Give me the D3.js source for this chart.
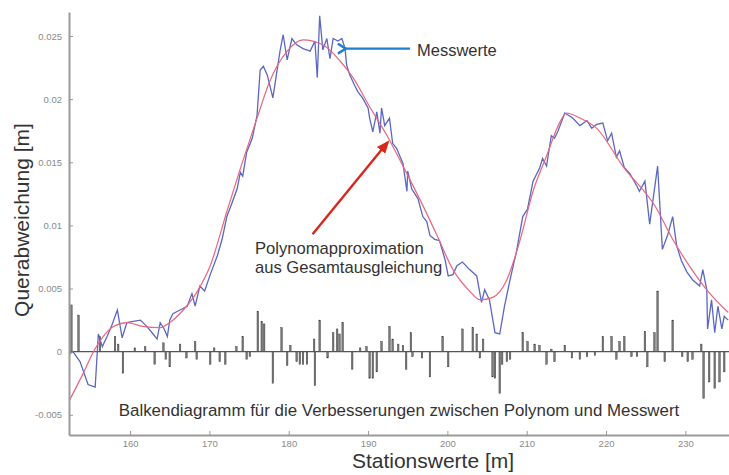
<!DOCTYPE html>
<html>
<head>
<meta charset="utf-8">
<script src="https://cdn.jsdelivr.net/npm/d3@7"></script>
<style>
    body { margin: 0; background: #fff; }
    svg { display: block; font-family: "Liberation Sans", Arial, sans-serif; }
    .axis path, .axis line { stroke: #9a9a9a; }
    .axis path { stroke-width: 2px; }
    .axis text { fill: #8a8a8a; font-size: 9.5px; }
</style>
</head>
<body>
<div id="chart"></div>
<script>

// Messwerte [Station m, Querabweichung m]
let messwerte = [
    [152.3,-0.0002],[152.8,0.0000],[153.7,-0.0008],[154.7,-0.0026],[155.6,-0.0028],[156.0,0.0014],
    [156.5,0.0004],[157.1,0.0012],[157.7,0.0021],[158.4,0.0033],[159.0,0.0011],[159.6,0.0023],
    [160.4,0.0024],[161.3,0.0025],[162.1,0.0020],[162.9,0.0014],[163.4,0.0010],[163.8,0.0023],
    [164.3,0.0018],[164.7,0.0012],[165.0,0.0025],[165.4,0.0030],[166.3,0.0033],[167.2,0.0036],
    [167.8,0.0046],[168.2,0.0036],[168.8,0.0052],[169.4,0.0048],[170.1,0.0061],[171.0,0.0076],
    [171.6,0.0089],[172.2,0.0107],[172.8,0.0117],[173.5,0.0129],[173.9,0.0142],[174.2,0.0139],
    [174.7,0.0158],[175.4,0.0169],[176.0,0.0187],[176.4,0.0223],[176.8,0.0226],[177.3,0.0219],
    [178.0,0.0201],[178.9,0.0238],[179.3,0.0251],[179.8,0.0231],[180.4,0.0248],[181.0,0.0243],
    [181.8,0.0240],[182.7,0.0238],[183.3,0.0246],[183.6,0.0217],[183.9,0.0266],[184.3,0.0239],
    [184.8,0.0248],[185.2,0.0232],[185.6,0.0248],[186.2,0.0246],[186.7,0.0248],[187.1,0.0240],
    [187.3,0.0227],[187.7,0.0219],[188.3,0.0211],[188.7,0.0206],[189.3,0.0201],[190.0,0.0193],
    [190.2,0.0185],[190.6,0.0174],[191.1,0.0190],[191.5,0.0173],[191.7,0.0193],[192.1,0.0179],
    [192.7,0.0185],[193.1,0.0165],[193.6,0.0161],[194.0,0.0155],[194.4,0.0149],[194.9,0.0127],
    [195.0,0.0143],[195.5,0.0129],[195.9,0.0125],[196.3,0.0121],[196.9,0.0107],[197.4,0.0103],
    [197.8,0.0092],[198.4,0.0089],[199.0,0.0088],[199.7,0.0073],[200.1,0.0060],[200.7,0.0061],
    [201.2,0.0068],[201.9,0.0071],[202.8,0.0065],[203.7,0.0060],[204.3,0.0039],[204.7,0.0049],
    [205.3,0.0041],[206.0,0.0015],[206.6,0.0014],[207.2,0.0036],[207.9,0.0057],[208.7,0.0079],
    [209.5,0.0107],[210.1,0.0113],[210.8,0.0135],[211.6,0.0145],[212.0,0.0153],[212.5,0.0147],
    [213.1,0.0171],[213.5,0.0169],[213.9,0.0174],[214.8,0.0189],[215.8,0.0185],[216.7,0.0179],
    [217.6,0.0183],[218.2,0.0177],[218.8,0.0180],[219.6,0.0181],[220.2,0.0167],[220.7,0.0173],
    [221.3,0.0154],[221.7,0.0159],[222.3,0.0146],[223.0,0.0141],[223.9,0.0131],[224.2,0.0127],
    [224.9,0.0135],[225.5,0.0101],[226.5,0.0147],[227.1,0.0081],[227.8,0.0093],[228.4,0.0107],
    [228.9,0.0084],[229.5,0.0072],[230.2,0.0063],[230.9,0.0057],[231.8,0.0052],[232.2,0.0065],
    [232.7,0.0049],[232.8,0.0018],[233.3,0.0041],[233.7,0.0015],[234.1,0.0036],[234.6,0.0018],
    [234.9,0.0028],[235.4,0.0025]
];

let polynom = [
    [152.4,-0.0038],[154.1,-0.0017],[155.3,-0.0001],[156.6,0.0012],[157.9,0.0020],[159.6,0.0023],
    [161.6,0.0020],[163.8,0.0019],[165.0,0.0023],[166.7,0.0033],[168.4,0.0047],[170.1,0.0068],
    [172.2,0.0111],[173.9,0.0145],[176.0,0.0185],[177.6,0.0214],[179.8,0.0238],[181.8,0.0247],
    [184.3,0.0243],[186.5,0.0230],[188.1,0.0217],[190.2,0.0194],[192.4,0.0171],[194.4,0.0147],
    [196.5,0.0121],[198.7,0.0092],[200.7,0.0065],[202.8,0.0048],[204.1,0.0041],[205.7,0.0043],
    [207.5,0.0057],[209.1,0.0087],[210.8,0.0127],[212.5,0.0155],[214.2,0.0182],[215.0,0.0189],
    [216.7,0.0185],[218.8,0.0177],[222.1,0.0147],[226.4,0.0113],[228.4,0.0089],[230.5,0.0068],
    [232.7,0.0049],[235.4,0.0031]
];

// Verbesserungen (Balken)
let verbesserungen = [
    [152.6,0.0037],[153.5,0.0029],[156.2,0.0012],[158.1,0.0012],[158.5,0.0006],[159.1,-0.0017],
    [160.6,0.0003],[161.9,0.0004],[163.1,-0.0010],[164.2,0.0007],[164.5,-0.0006],[165.0,-0.0012],
    [166.3,0.0006],[167.1,-0.0005],[168.2,0.0008],[168.4,-0.0006],[170.1,-0.0010],[170.6,0.0003],
    [171.3,-0.0008],[172.0,-0.0010],[173.4,0.0004],[174.2,0.0012],[174.7,-0.0006],[175.1,-0.0004],
    [176.1,0.0032],[176.6,0.0024],[176.9,0.0022],[178.0,-0.0025],[179.1,0.0019],[179.8,-0.0011],
    [180.2,0.0005],[181.0,-0.0008],[181.4,-0.0010],[181.8,-0.0010],[182.3,-0.0010],[183.2,0.0010],
    [183.3,-0.0027],[183.9,0.0025],[184.9,-0.0005],[185.6,0.0015],[186.1,0.0018],[186.4,0.0014],
    [186.8,0.0023],[188.0,-0.0014],[189.0,0.0003],[189.8,0.0004],[190.2,-0.0021],[190.6,-0.0021],
    [191.1,-0.0016],[191.7,0.0008],[192.7,0.0020],[193.1,0.0010],[193.8,0.0006],[194.4,0.0005],
    [194.8,-0.0014],[195.4,0.0015],[195.6,-0.0004],[196.8,-0.0005],[197.8,-0.0020],[199.4,0.0012],
    [200.1,-0.0012],[201.9,0.0018],[203.2,0.0019],[203.7,0.0014],[204.1,-0.0005],[204.5,0.0010],
    [205.7,-0.0020],[206.0,-0.0021],[206.6,-0.0033],[206.9,-0.0010],[207.5,-0.0008],[207.9,-0.0006],
    [209.5,0.0015],[210.1,0.0008],[211.0,0.0006],[211.6,0.0005],[212.5,-0.0010],[213.1,0.0002],
    [213.5,-0.0008],[214.8,0.0005],[215.7,-0.0005],[216.7,-0.0006],[217.6,-0.0004],[218.6,-0.0003],
    [219.6,0.0012],[220.7,0.0012],[221.3,-0.0006],[221.7,0.0008],[222.3,0.0012],[223.2,-0.0004],
    [223.9,-0.0004],[224.9,0.0016],[225.2,-0.0012],[226.1,0.0015],[226.5,0.0048],[227.4,-0.0008],
    [228.4,0.0025],[229.6,-0.0004],[230.3,-0.0008],[230.9,-0.0006],[232.0,0.0006],[232.3,-0.0037],
    [233.0,-0.0024],[233.7,-0.0029],[234.3,-0.0024],[234.9,-0.0016]
];

let xTicks = [160, 170, 180, 190, 200, 210, 220, 230];
let yTicks = [-0.005, 0, 0.005, 0.01, 0.015, 0.02, 0.025];

let xDomain = [152.3, 235.5];
let yDomain = [-0.0066, 0.0269];


let margin = {top: 12, right: 0, bottom: 40, left: 69};
let width = 729 - margin.left - margin.right;
let height = 475 - margin.top - margin.bottom;

let svg = d3.select("#chart").append("svg")
    .attr("width", 729)
    .attr("height", 475);

let defs = svg.append("defs");

defs.append("marker")
    .attr("id", "headBlue")
    .attr("viewBox", "0 0 12 12")
    .attr("refX", 1).attr("refY", 6)
    .attr("markerWidth", 12).attr("markerHeight", 12)
    .attr("markerUnits", "userSpaceOnUse")
    .attr("orient", "auto-start-reverse")
    .append("path")
    .attr("d", "M9,1 L1,6 L9,11")
    .attr("fill", "none")
    .attr("stroke", "#1f7fd0")
    .attr("stroke-width", 2.4);

defs.append("marker")
    .attr("id", "headRed")
    .attr("viewBox", "0 0 12 12")
    .attr("refX", 10).attr("refY", 6)
    .attr("markerWidth", 13).attr("markerHeight", 13)
    .attr("markerUnits", "userSpaceOnUse")
    .attr("orient", "auto")
    .append("path")
    .attr("d", "M0,1 L12,6 L0,11 Z")
    .attr("fill", "#d8281e");

let g = svg.append("g")
    .attr("transform", `translate(${margin.left}, ${margin.top})`);

// scales
let x = d3.scaleLinear().domain(xDomain).range([0, width]);
let y = d3.scaleLinear().domain(yDomain).range([height, 0]);

// bars
g.selectAll(".bar")
    .data(verbesserungen)
    .enter().append("rect")
    .attr("class", "bar")
    .attr("x", d => x(d[0]) - 0.8)
    .attr("width", 1.6)
    .attr("y", d => y(Math.max(0, d[1])))
    .attr("height", d => Math.abs(y(d[1]) - y(0)))
    .attr("fill", "#7a7a7a")
    .attr("stroke", "#333")
    .attr("stroke-width", 0.4);

// zero line
g.append("line")
    .attr("x1", 0).attr("x2", width)
    .attr("y1", y(0)).attr("y2", y(0))
    .attr("stroke", "#555")
    .attr("stroke-width", 1.2);

// lines
let line = d3.line()
    .x(d => x(d[0]))
    .y(d => y(d[1]));

g.append("path")
    .datum(messwerte)
    .attr("fill", "none")
    .attr("stroke", "#5b67c2")
    .attr("stroke-width", 1.3)
    .attr("d", line);

g.append("path")
    .datum(polynom)
    .attr("fill", "none")
    .attr("stroke", "#e8667e")
    .attr("stroke-width", 1.2)
    .attr("d", line.curve(d3.curveMonotoneX));

// axes
let xAxis = d3.axisBottom(x)
    .tickValues(xTicks)
    .tickSizeInner(-4)
    .tickSizeOuter(0)
    .tickPadding(5);

let yAxis = d3.axisLeft(y)
    .tickValues(yTicks)
    .tickSizeInner(-4)
    .tickSizeOuter(0)
    .tickPadding(7)
    .tickFormat(d => d === 0 ? "0" : String(+d.toFixed(3)));

g.append("g")
    .attr("class", "x-axis axis")
    .attr("transform", "translate(0," + height + ")")
    .call(xAxis);

g.append("g")
    .attr("class", "y-axis axis")
    .call(yAxis);

// axis titles
svg.append("text")
    .attr("transform", "translate(29, 220) rotate(-90)")
    .attr("text-anchor", "middle")
    .attr("font-size", 21)
    .attr("fill", "#333")
    .text("Querabweichung [m]");

svg.append("text")
    .attr("x", 433).attr("y", 468)
    .attr("text-anchor", "middle")
    .attr("font-size", 21)
    .attr("fill", "#333")
    .text("Stationswerte [m]");

// annotations
g.append("line")
    .attr("x1", x(195.3)).attr("y1", y(0.0240))
    .attr("x2", x(187.2)).attr("y2", y(0.0240))
    .attr("stroke", "#1f7fd0")
    .attr("stroke-width", 2.4)
    .attr("marker-end", "url(#headBlue)");

g.append("line")
    .attr("x1", x(183.0)).attr("y1", y(0.0093))
    .attr("x2", x(192.5)).attr("y2", y(0.0166))
    .attr("stroke", "#d8281e")
    .attr("stroke-width", 2.4)
    .attr("marker-end", "url(#headRed)");

svg.append("text")
    .attr("x", 417).attr("y", 56)
    .attr("font-size", 16.5)
    .attr("fill", "#333")
    .text("Messwerte");

svg.append("text")
    .attr("x", 255).attr("y", 254)
    .attr("font-size", 16.6)
    .attr("fill", "#333")
    .text("Polynomapproximation");

svg.append("text")
    .attr("x", 255).attr("y", 273)
    .attr("font-size", 16.6)
    .attr("fill", "#333")
    .text("aus Gesamtausgleichung");

svg.append("text")
    .attr("x", 399).attr("y", 416)
    .attr("text-anchor", "middle")
    .attr("font-size", 16.9)
    .attr("fill", "#333")
    .text("Balkendiagramm für die Verbesserungen zwischen Polynom und Messwert");

</script>
</body>
</html>
